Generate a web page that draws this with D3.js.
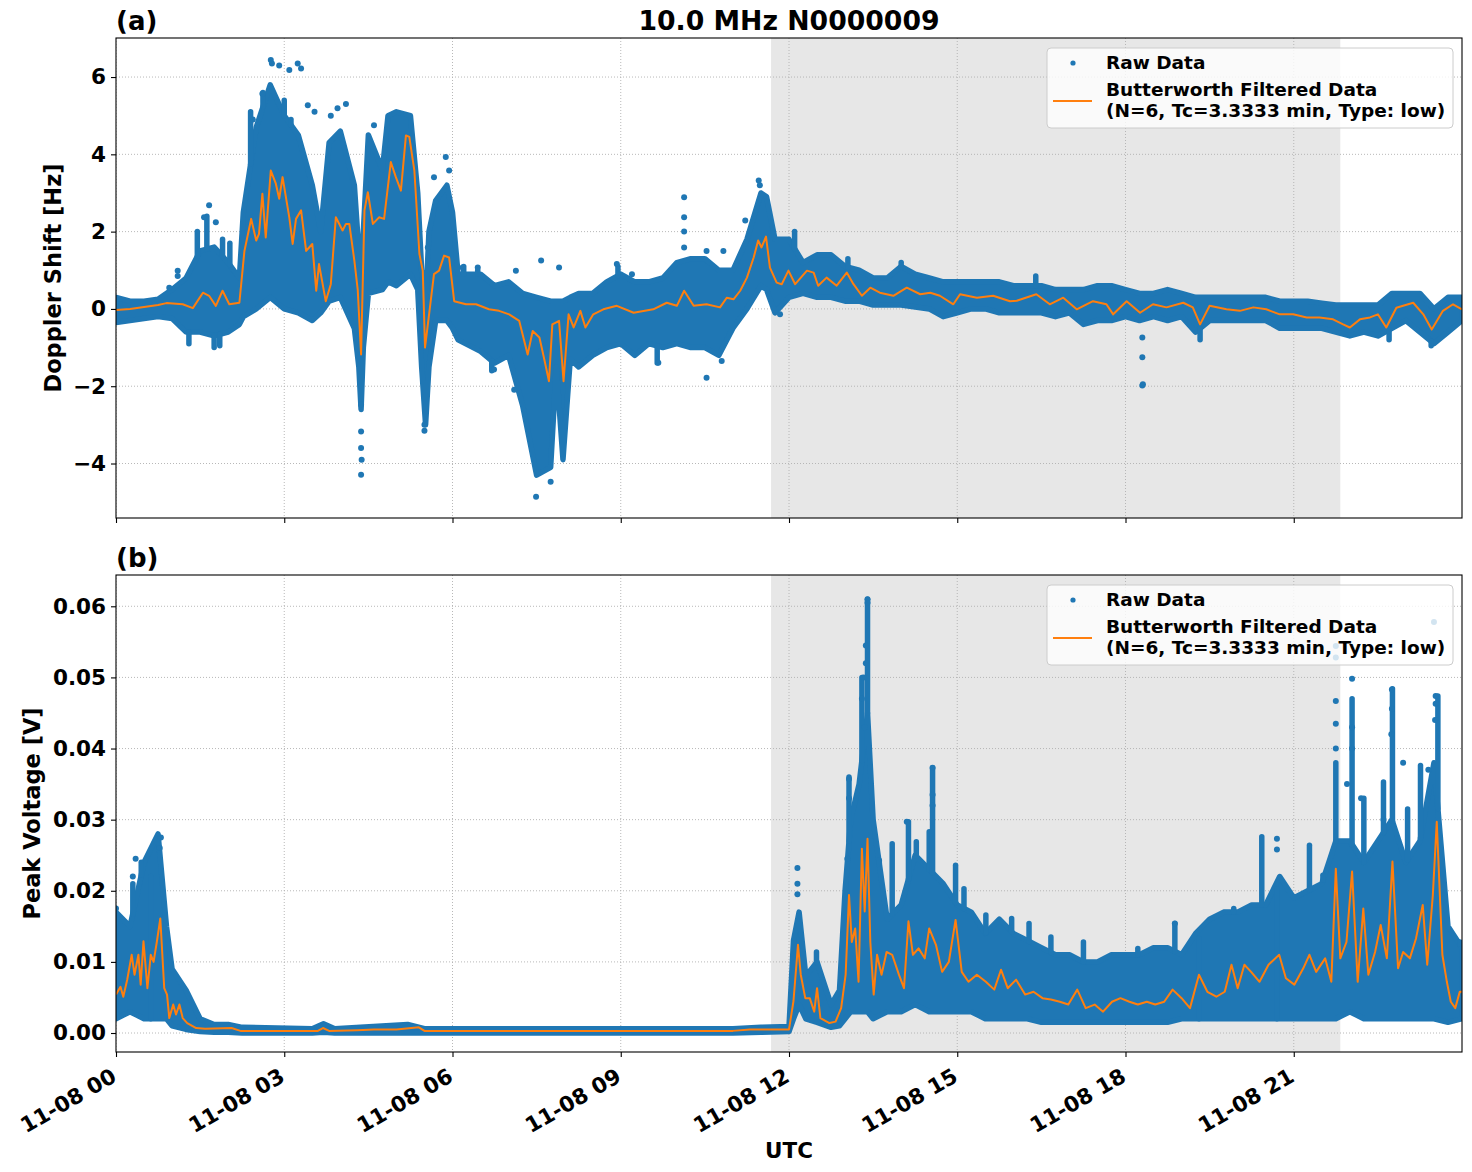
<!DOCTYPE html>
<html>
<head>
<meta charset="utf-8">
<script src="https://cdn.jsdelivr.net/npm/d3@7"></script>
<style>
  body { margin: 0; background: #fff; }
  svg { font-family: "DejaVu Sans", sans-serif; font-weight: bold; }
</style>
</head>
<body>
<div id="chart"></div>
<script>
// ---- data (hours UTC on 11-08) ----
const dayTicks = [0, 3, 6, 9, 12, 15, 18, 21];
const shadeSpan = [11.68, 21.83];

// panel (a): Doppler shift [Hz]
const dopEnvT = [0,0.25,0.5,0.75,1,1.25,1.5,1.75,2,2.2,2.27,2.5,2.75,3,3.25,3.5,3.65,3.8,4,4.25,4.33,4.37,4.41,4.5,4.75,4.85,5,5.25,5.38,5.45,5.52,5.58,5.7,5.9,6,6.1,6.5,6.75,7,7.25,7.5,7.75,7.85,7.97,8.1,8.25,8.5,8.75,9,9.25,9.5,9.75,10,10.25,10.5,10.75,11,11.25,11.5,11.6,11.75,
  12,12.25,12.5,12.75,13,13.25,13.5,13.75,14,14.25,14.5,14.75,15,15.25,15.5,15.75,16,16.25,16.5,16.75,17,17.25,17.5,17.75,18,18.25,18.5,18.75,19,19.25,19.5,19.75,20,20.25,20.5,20.75,21,21.25,21.5,21.75,22,22.25,22.5,22.75,23,23.25,23.5,23.75,24];
const dopEnvHi = [0.3,0.2,0.2,0.25,0.5,0.8,1.5,1.6,1.2,0.8,2.5,4.7,5.8,5.0,4.5,3.2,2.0,4.3,4.6,3.2,1.5,0.5,2.0,4.5,3.6,5.0,5.1,5.0,3.0,1.0,0.0,2.0,2.8,3.2,2.5,0.9,0.9,0.6,0.7,0.4,0.3,0.2,0.2,0.2,0.3,0.4,0.4,0.7,0.9,0.7,0.7,0.8,1.2,1.3,1.3,1.0,1.0,1.8,3.0,2.9,1.8,
  1.8,1.2,1.4,1.4,1.1,1.0,0.8,0.8,1.1,0.9,0.8,0.7,0.7,0.7,0.7,0.7,0.6,0.6,0.6,0.5,0.5,0.5,0.6,0.6,0.5,0.4,0.4,0.5,0.4,0.3,0.3,0.3,0.3,0.3,0.3,0.2,0.2,0.2,0.15,0.1,0.1,0.1,0.1,0.4,0.4,0.4,0.0,0.3,0.3];
const dopEnvLo = [-0.35,-0.3,-0.25,-0.2,-0.25,-0.6,-0.6,-0.7,-0.6,-0.4,-0.2,0.0,0.3,0.0,-0.1,-0.3,-0.1,0.2,0.3,-0.5,-1.5,-2.6,-1.0,0.4,0.5,0.7,0.6,0.9,0.5,-1.5,-3.0,-1.5,-0.3,-0.3,-0.5,-0.8,-1.1,-1.4,-1.2,-2.5,-4.3,-4.1,-1.5,-3.9,-1.3,-1.5,-1.2,-1.0,-0.9,-1.2,-0.9,-1.0,-0.9,-1.0,-1.0,-1.2,-0.5,0.0,0.6,0.5,-0.1,
  0.3,0.4,0.3,0.3,0.2,0.2,0.1,0.1,0.1,0.05,0.0,-0.2,-0.1,0.0,0.0,-0.1,-0.1,-0.1,-0.1,-0.2,-0.1,-0.4,-0.3,-0.3,-0.2,-0.3,-0.2,-0.3,-0.2,-0.6,-0.3,-0.3,-0.3,-0.3,-0.3,-0.5,-0.5,-0.5,-0.5,-0.6,-0.7,-0.6,-0.7,-0.5,-0.3,-0.6,-0.9,-0.6,-0.3];
// streaks of raw points sticking out of the cloud [hour, tip]
const dopSpikes = [[1.3,-0.9],[1.45,2.0],[1.62,2.4],[1.75,-1.0],[1.85,-0.95],[1.9,1.8],[2.03,1.7],[2.4,5.1],[2.62,5.6],[3.0,5.4],[3.12,4.9],
  [6.2,1.1],[6.45,1.0],[6.7,-1.6],[8.95,1.1],[9.65,-1.4],[12.1,2.0],[13.05,1.3],[14.0,1.2],[16.4,0.85],[19.33,-0.8],[22.7,-0.8],[23.45,-0.95]];
const dopOutliers = [[2.76,6.44],[2.78,6.35],[2.91,6.3],[3.24,6.35],[3.3,6.22],[3.09,6.18],[2.44,4.9],[2.61,5.57],[3.42,5.27],[3.54,5.1],
  [1.66,2.68],[1.57,2.37],[1.78,2.24],[1.1,0.99],[1.1,0.85],[0.95,0.55],[3.95,5.19],[4.1,5.3],[3.83,5.0],[4.6,4.75],[5.88,3.93],[5.94,3.58],[5.67,3.41],[5.56,1.59],
  [4.37,-2.48],[4.37,-3.17],[4.37,-3.6],[4.38,-3.9],[4.37,-4.29],[5.5,-3.0],[5.5,-3.15],[7.49,-4.86],[7.75,-4.47],[7.58,1.25],[7.9,1.07],[6.74,-1.57],[7.1,-2.09],
  [6.18,1.07],[6.45,1.07],[7.13,0.99],[8.93,1.16],[9.2,0.9],[10.13,2.89],[10.13,2.37],[10.13,2.0],[10.13,1.59],[10.53,1.5],[10.83,1.5],[11.22,2.29],
  [10.53,-1.78],[11.46,3.32],[11.48,3.2],[9.67,-1.39],[10.8,-1.35],[11.84,-0.14],[18.3,-0.74],[18.3,-1.25],[18.3,-1.98],[18.31,-1.95]];
const dopFiltT = [0,0.25,0.5,0.75,0.9,1.19,1.37,1.55,1.66,1.78,1.9,2.02,2.2,2.29,2.41,2.5,2.55,2.61,2.67,2.76,2.85,2.91,2.97,3.09,3.15,3.21,3.3,3.39,3.5,3.57,3.62,3.74,3.83,3.92,4.04,4.1,4.16,4.25,4.31,4.37,4.43,4.49,4.58,4.69,4.78,4.9,4.99,5.08,5.17,5.23,5.32,5.41,5.47,5.51,5.59,5.67,5.76,5.85,5.94,6.03,6.24,6.42,6.65,6.83,7.01,7.19,7.34,7.43,7.55,7.63,7.72,7.78,7.9,7.98,
  8.07,8.16,8.28,8.37,8.51,8.69,8.93,9.23,9.58,9.82,10,10.13,10.3,10.53,10.77,10.89,11.01,11.13,11.25,11.37,11.45,11.51,11.59,11.66,11.78,11.87,11.99,12.11,12.32,12.44,12.52,12.67,12.85,13.03,13.15,13.3,13.45,13.62,13.86,14.1,14.34,14.52,14.69,14.93,15.05,15.35,15.64,15.94,
  16.06,16.41,16.65,16.89,17.13,17.42,17.66,17.78,18.02,18.26,18.49,18.73,19.03,19.2,19.33,19.5,19.8,20.04,20.28,20.51,20.75,20.99,21.23,21.46,21.7,21.88,22,22.18,22.36,22.5,22.65,22.83,23.13,23.31,23.46,23.66,23.84,24];
const dopFiltV = [-0.03,0.0,0.05,0.1,0.15,0.12,0.02,0.42,0.34,0.08,0.47,0.12,0.16,1.5,2.33,1.77,1.94,2.98,1.85,3.58,3.24,2.85,3.41,2.37,1.68,2.33,2.55,1.5,1.68,0.47,1.16,0.2,0.64,2.37,2.03,2.2,2.2,1.25,0.5,-1.18,2.55,3.02,2.2,2.37,2.33,3.8,3.41,3.06,4.49,4.45,3.58,1.42,0.99,-1.0,-0.05,0.9,0.99,1.38,1.33,0.2,0.12,0.12,-0.01,-0.05,-0.14,-0.31,-1.18,-0.57,-0.74,-1.26,-1.87,-0.4,-0.31,-1.87,
  -0.14,-0.48,-0.05,-0.48,-0.14,-0.01,0.08,-0.1,-0.01,0.16,0.08,0.47,0.08,0.12,0.04,0.29,0.25,0.47,0.81,1.33,1.77,1.59,1.87,1.07,0.68,0.64,0.99,0.64,0.99,0.94,0.6,0.81,0.6,0.94,0.64,0.34,0.55,0.42,0.34,0.55,0.38,0.42,0.34,0.12,0.38,0.29,0.34,0.2,
  0.21,0.38,0.12,0.29,-0.01,0.2,0.12,-0.14,0.2,-0.1,0.12,0.04,0.16,0.04,-0.4,0.08,-0.01,-0.05,0.04,-0.01,-0.14,-0.14,-0.22,-0.22,-0.27,-0.4,-0.48,-0.27,-0.22,-0.14,-0.48,0.03,0.16,-0.14,-0.53,-0.05,0.12,-0.01];

// panel (b): peak voltage [V]
const voltEnvT = [0,0.25,0.5,0.75,0.9,1,1.25,1.5,1.75,2,2.25,3.5,3.7,3.9,5.2,5.5,11,11.5,12,12.08,12.18,12.3,12.5,12.75,12.9,13,13.1,13.25,13.4,13.5,13.75,
  14,14.25,14.5,14.75,15,15.25,15.5,15.75,16,16.25,16.5,16.75,17,17.25,17.5,17.75,18,18.25,18.5,18.75,19,19.25,19.5,19.75,20,20.25,20.5,20.75,21,21.25,21.5,21.75,22,22.25,22.5,22.75,23,23.25,23.5,23.75,24];
const voltEnvHi = [0.017,0.015,0.024,0.028,0.015,0.009,0.006,0.002,0.0012,0.0012,0.0008,0.0006,0.0013,0.0006,0.0012,0.0006,0.0006,0.0008,0.0009,0.013,0.017,0.008,0.010,0.004,0.006,0.020,0.030,0.035,0.045,0.030,0.016,
  0.018,0.025,0.023,0.021,0.018,0.017,0.014,0.016,0.014,0.013,0.012,0.011,0.011,0.010,0.010,0.011,0.011,0.011,0.012,0.012,0.011,0.014,0.016,0.017,0.017,0.018,0.018,0.022,0.019,0.020,0.021,0.027,0.027,0.024,0.027,0.030,0.024,0.027,0.038,0.015,0.012];
const voltEnvLo = [0.002,0.003,0.002,0.002,0.002,0.001,0.0005,0.0002,0.0001,0.0001,0,0,0.0001,0,0,0,0,0.0001,0.0002,0.002,0.004,0.002,0.0015,0.0008,0.001,0.002,0.003,0.003,0.003,0.002,0.003,
  0.003,0.004,0.003,0.003,0.003,0.003,0.002,0.002,0.002,0.002,0.0015,0.0015,0.0015,0.0015,0.0015,0.0015,0.0015,0.0015,0.0015,0.0015,0.002,0.002,0.002,0.002,0.002,0.002,0.002,0.002,0.002,0.002,0.002,0.002,0.003,0.002,0.002,0.002,0.002,0.002,0.002,0.0015,0.002];
const voltSpikes = [[0.3,0.021],[0.45,0.024],[0.62,0.022],[12.49,0.0114],[13.07,0.036],[13.3,0.05],[13.4,0.061],[13.61,0.0243],[13.84,0.0266],[14.13,0.0297],[14.27,0.0269],
  [14.5,0.0283],[14.56,0.0373],[14.97,0.0236],[15.12,0.0203],[15.51,0.0166],[15.97,0.0161],[16.28,0.0154],[16.67,0.0135],[17.25,0.0128],[18.22,0.0119],[18.88,0.0154],
  [19.31,0.0133],[19.93,0.0175],[20.43,0.0276],[20.7,0.0203],[21.28,0.0264],[21.52,0.0222],[21.75,0.038],[22.04,0.047],[22.25,0.033],[22.6,0.0353],[22.76,0.0484],
  [23.03,0.0315],[23.26,0.0376],[23.57,0.0474],[23.96,0.0128]];
const voltOutliers = [[13.4,0.061],[13.4,0.0605],[13.37,0.0545],[13.37,0.052],[13.33,0.05],[13.3,0.047],[13.35,0.043],[13.07,0.0357],[13.07,0.033],[13.04,0.0245],
  [14.1,0.0297],[14.56,0.0373],[14.56,0.0335],[14.56,0.032],[12.15,0.0232],[12.15,0.021],[12.15,0.0195],
  [21.75,0.0544],[21.75,0.0528],[21.75,0.0467],[21.75,0.0435],[21.75,0.04],[22.04,0.0498],[22.04,0.043],[22.04,0.04],[22.75,0.0483],[22.75,0.0456],[22.74,0.042],
  [23.53,0.0474],[23.53,0.0463],[23.52,0.044],[23.5,0.0578],[20.7,0.0273],[20.7,0.0258],[18.88,0.0154],[0.8,0.0275],[0.78,0.026],[0.35,0.0245],[0.3,0.022],[0.0,0.0175],
  [22.95,0.038],[23.4,0.037],[22.6,0.03],[21.95,0.035],[22.2,0.033]];
const voltFiltT = [0,0.08,0.13,0.2,0.28,0.33,0.4,0.44,0.49,0.56,0.62,0.67,0.73,0.79,0.86,0.91,0.95,1.02,1.07,1.13,1.19,1.27,1.43,1.59,2.06,2.22,3.6,3.69,3.8,4.3,4.6,5,5.4,5.5,11,11.3,12,
  12.08,12.16,12.21,12.29,12.37,12.45,12.5,12.56,12.72,12.83,12.93,13.01,13.07,13.12,13.18,13.24,13.3,13.35,13.4,13.45,13.51,13.57,13.65,13.74,13.84,13.96,14.05,14.13,14.21,14.31,14.42,14.5,14.62,14.73,14.85,14.97,
  15.08,15.2,15.35,15.51,15.66,15.78,15.9,16.05,16.21,16.36,16.52,16.67,16.83,16.98,17.14,17.29,17.45,17.6,17.76,17.91,18.07,18.22,18.38,18.53,18.69,18.84,19,19.15,19.31,19.46,19.62,19.77,19.89,
  20,20.12,20.24,20.39,20.55,20.74,20.86,21.01,21.17,21.28,21.4,21.56,21.67,21.75,21.83,21.94,22.04,22.14,22.24,22.33,22.45,22.55,22.66,22.76,22.86,22.95,23.07,23.18,23.3,23.38,23.48,23.55,23.65,23.73,23.8,23.88,23.96,24];
const voltFiltV = [0.0054,0.0065,0.0051,0.0075,0.011,0.0082,0.011,0.0068,0.0129,0.0063,0.011,0.010,0.0129,0.0161,0.0063,0.0054,0.0021,0.004,0.0026,0.004,0.0021,0.0014,0.0007,0.0006,0.0007,0.0003,0.0003,0.0007,0.0003,0.0004,0.0005,0.0005,0.0008,0.0003,0.0003,0.0005,0.0005,
  0.0045,0.0124,0.0082,0.0049,0.0049,0.003,0.0063,0.0021,0.0014,0.0016,0.0035,0.0082,0.0194,0.0128,0.0147,0.0072,0.0259,0.0171,0.0273,0.0128,0.0054,0.011,0.0082,0.0114,0.011,0.0082,0.0063,0.0157,0.011,0.0119,0.0105,0.0147,0.0124,0.0086,0.010,0.0159,
  0.0086,0.0072,0.0082,0.0072,0.0061,0.0089,0.0063,0.0075,0.0054,0.0058,0.0049,0.0047,0.0044,0.004,0.0061,0.0035,0.004,0.003,0.0044,0.0049,0.0044,0.004,0.0044,0.004,0.0044,0.0061,0.0049,0.0035,0.0082,0.0058,0.0051,0.0058,0.0096,
  0.0063,0.0096,0.0086,0.0072,0.0096,0.011,0.0077,0.0068,0.0091,0.011,0.0086,0.0105,0.0072,0.0231,0.0105,0.0128,0.0227,0.0072,0.0175,0.0082,0.0114,0.0152,0.0105,0.0241,0.0091,0.0114,0.0105,0.0133,0.018,0.0096,0.0194,0.0297,0.011,0.0072,0.0044,0.0035,0.0058,0.0058];

// ---- layout ----
const W = 1472, H = 1172;
const left = 116, right = 1462;
const blue = '#1f77b4', orange = '#ff7f0e';
const tickFont = 21.5;

const svg = d3.select('#chart').append('svg').attr('width', W).attr('height', H);

const base = Date.UTC(2023, 10, 8);
const toDate = (h) => new Date(base + h * 3600e3);
const x = d3.scaleUtc().domain([toDate(0), toDate(24)]).range([left, right]);
const fmtX = d3.utcFormat('%m-%d %H');

const panels = [
  {
    id: 'a', top: 38, bottom: 518, domain: [-5.41, 7.01], ticks: [-4, -2, 0, 2, 4, 6], fmt: d3.format('d'),
    envT: dopEnvT, envHi: dopEnvHi, envLo: dopEnvLo, spikes: dopSpikes, outliers: dopOutliers, filtT: dopFiltT, filtV: dopFiltV,
    ylabel: 'Doppler Shift [Hz]', ylabelX: 61, showX: false,
  },
  {
    id: 'b', top: 575, bottom: 1052, domain: [-0.00267, 0.0644], ticks: [0, 0.01, 0.02, 0.03, 0.04, 0.05, 0.06], fmt: d3.format('.2f'),
    envT: voltEnvT, envHi: voltEnvHi, envLo: voltEnvLo, spikes: voltSpikes, outliers: voltOutliers, filtT: voltFiltT, filtV: voltFiltV,
    ylabel: 'Peak Voltage [V]', ylabelX: 40, showX: true,
  },
];

panels.forEach((p) => {
  const y = d3.scaleLinear().domain(p.domain).range([p.bottom, p.top]);
  const g = svg.append('g');

  svg.append('clipPath').attr('id', `clip-${p.id}`)
    .append('rect').attr('x', left).attr('y', p.top).attr('width', right - left).attr('height', p.bottom - p.top);

  const inner = g.append('g').attr('clip-path', `url(#clip-${p.id})`);

  // daylight shading
  inner.append('rect')
    .attr('x', x(toDate(shadeSpan[0])))
    .attr('y', p.top)
    .attr('width', x(toDate(shadeSpan[1])) - x(toDate(shadeSpan[0])))
    .attr('height', p.bottom - p.top)
    .attr('fill', '#e7e7e7');

  // grid
  const grid = inner.append('g').attr('stroke', '#b0b0b0').attr('stroke-width', 0.9).attr('stroke-dasharray', '1,2');
  dayTicks.forEach((h) => {
    grid.append('line').attr('x1', x(toDate(h))).attr('x2', x(toDate(h))).attr('y1', p.top).attr('y2', p.bottom);
  });
  p.ticks.forEach((v) => {
    grid.append('line').attr('x1', left).attr('x2', right).attr('y1', y(v)).attr('y2', y(v));
  });

  // raw data cloud
  const env = p.envT.map((t, i) => ({ t, hi: p.envHi[i], lo: p.envLo[i] }));
  const area = d3.area().x((d) => x(toDate(d.t))).y0((d) => y(d.lo)).y1((d) => y(d.hi));
  inner.append('path').datum(env).attr('d', area)
    .attr('fill', blue).attr('stroke', blue).attr('stroke-width', 5.5).attr('stroke-linejoin', 'round');

  // streaks: start from the cloud edge nearest the tip
  const edgeAt = (t, key) => {
    const i = d3.bisector((d) => d.t).left(env, t);
    const a = env[Math.max(0, i - 1)], b = env[Math.min(env.length - 1, i)];
    const f = b.t === a.t ? 0 : (t - a.t) / (b.t - a.t);
    return a[key] + f * (b[key] - a[key]);
  };
  inner.append('g').selectAll('line').data(p.spikes).enter().append('line')
    .attr('x1', (d) => x(toDate(d[0]))).attr('x2', (d) => x(toDate(d[0])))
    .attr('y1', (d) => {
      const hi = edgeAt(d[0], 'hi');
      return y(d[1] > hi ? hi : edgeAt(d[0], 'lo'));
    })
    .attr('y2', (d) => y(d[1]))
    .attr('stroke', blue).attr('stroke-width', 5.5).attr('stroke-linecap', 'round');

  inner.append('g').selectAll('circle').data(p.outliers).enter().append('circle')
    .attr('cx', (d) => x(toDate(d[0]))).attr('cy', (d) => y(d[1])).attr('r', 3).attr('fill', blue);

  // filtered line
  const filt = p.filtT.map((t, i) => ({ t, v: p.filtV[i] }));
  const line = d3.line().x((d) => x(toDate(d.t))).y((d) => y(d.v));
  inner.append('path').datum(filt).attr('d', line)
    .attr('fill', 'none').attr('stroke', orange).attr('stroke-width', 2).attr('stroke-linejoin', 'round');

  // axes
  const yAxis = g.append('g').attr('transform', `translate(${left},0)`)
    .call(d3.axisLeft(y).tickValues(p.ticks).tickFormat(p.fmt).tickSize(5).tickPadding(5));
  yAxis.select('.domain').remove();
  yAxis.selectAll('line').attr('stroke', '#000').attr('stroke-width', 1.1);
  yAxis.selectAll('text').attr('font-size', tickFont).attr('font-family', '"DejaVu Sans", sans-serif').attr('font-weight', 'bold').attr('fill', '#000');

  const xAxis = g.append('g').attr('transform', `translate(0,${p.bottom})`)
    .call(d3.axisBottom(x).tickValues(dayTicks.map(toDate)).tickFormat(p.showX ? fmtX : '').tickSize(5));
  xAxis.select('.domain').remove();
  xAxis.selectAll('line').attr('stroke', '#000').attr('stroke-width', 1.1);
  if (p.showX) {
    xAxis.selectAll('text')
      .attr('font-size', tickFont).attr('font-family', '"DejaVu Sans", sans-serif').attr('font-weight', 'bold').attr('fill', '#000')
      .attr('text-anchor', 'end')
      .attr('y', 0).attr('dy', '0.78em')
      .attr('transform', 'translate(-7,14) rotate(-30)');
  }

  // spines
  g.append('rect').attr('x', left).attr('y', p.top).attr('width', right - left).attr('height', p.bottom - p.top)
    .attr('fill', 'none').attr('stroke', '#000').attr('stroke-width', 1.1);

  // panel label
  g.append('text').attr('x', left).attr('y', p.top - 8).attr('font-size', 26).text(`(${p.id})`);

  // y label
  g.append('text')
    .attr('transform', `translate(${p.ylabelX},${(p.top + p.bottom) / 2}) rotate(-90)`)
    .attr('text-anchor', 'middle').attr('font-size', 22.5).text(p.ylabel);

  // legend
  const ly = p.top + 10;
  const lg = g.append('g');
  lg.append('rect').attr('x', 1047).attr('y', ly).attr('width', 406).attr('height', 80).attr('rx', 4)
    .attr('fill', '#fff').attr('fill-opacity', 0.8).attr('stroke', '#cccccc').attr('stroke-width', 1);
  lg.append('circle').attr('cx', 1073).attr('cy', ly + 15).attr('r', 2.6).attr('fill', blue);
  lg.append('text').attr('x', 1106).attr('y', ly + 15).attr('dy', '0.35em').attr('font-size', 18.5).text('Raw Data');
  lg.append('line').attr('x1', 1053).attr('x2', 1092).attr('y1', ly + 53).attr('y2', ly + 53)
    .attr('stroke', orange).attr('stroke-width', 2);
  lg.append('text').attr('x', 1106).attr('y', ly + 42).attr('dy', '0.35em').attr('font-size', 18.5).text('Butterworth Filtered Data');
  lg.append('text').attr('x', 1106).attr('y', ly + 63).attr('dy', '0.35em').attr('font-size', 18.5).text('(N=6, Tc=3.3333 min, Type: low)');
});

// title and x label
svg.append('text').attr('x', (left + right) / 2).attr('y', 30).attr('text-anchor', 'middle').attr('font-size', 26.7)
  .text('10.0 MHz N0000009');
svg.append('text').attr('x', (left + right) / 2).attr('y', 1158).attr('text-anchor', 'middle').attr('font-size', 21.5)
  .text('UTC');
</script>
</body>
</html>
